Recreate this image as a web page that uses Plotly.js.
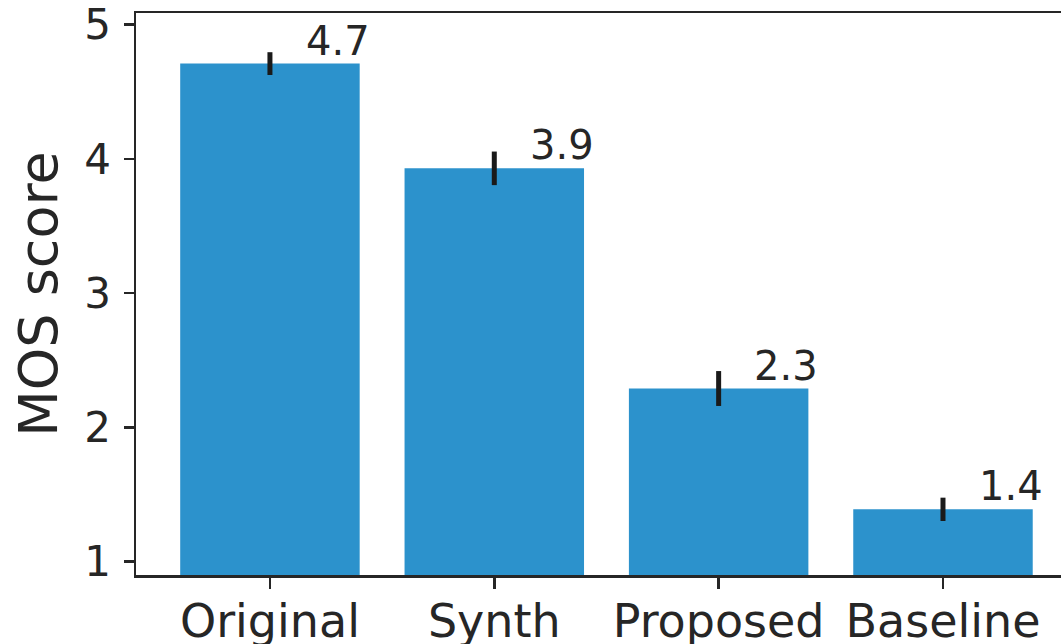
<!DOCTYPE html>
<html>
<head>
<meta charset="utf-8">
<script src="https://cdn.plot.ly/plotly-3.0.1.min.js"></script>
<style>
html,body{margin:0;padding:0;background:#fff;}
#chart{width:1061px;height:644px;}
</style>
</head>
<body>
<div id="chart"></div>
<script>
const categories = ["Original", "Synth", "Proposed", "Baseline"];
const mosValues = [4.71, 3.93, 2.29, 1.39];
const mosErrors = [0.085, 0.125, 0.13, 0.087];
const valueLabels = ["4.7", "3.9", "2.3", "1.4"];
const yTicks = [1, 2, 3, 4, 5];

const xIdx = categories.map((c, i) => i);

const trace = {
  type: "bar",
  x: xIdx,
  y: mosValues,
  width: 0.8,
  marker: {color: "#2C92CC", line: {width: 0}},
  error_y: {type: "data", array: mosErrors, visible: true, color: "#1a1a1a", thickness: 5, width: 0},
  hoverinfo: "skip"
};

const annotations = mosValues.map((v, i) => ({
  x: i + 0.15, y: v - 0.015, xref: "x", yref: "y",
  text: valueLabels[i], showarrow: false,
  xanchor: "left", yanchor: "bottom",
  font: {family: "DejaVu Sans", size: 40, color: "#262626"}
}));

const layout = {
  width: 1061, height: 644,
  margin: {l: 136, r: 0, t: 13, b: 69, pad: 0},
  paper_bgcolor: "#ffffff", plot_bgcolor: "#ffffff",
  showlegend: false,
  font: {family: "DejaVu Sans", color: "#262626"},
  xaxis: {
    range: [-0.597, 3.526],
    tickmode: "array", tickvals: xIdx, ticktext: categories,
    showgrid: false, zeroline: false,
    showline: true, linecolor: "#262626", linewidth: 2.5, mirror: true,
    ticks: "outside", ticklen: 11, tickwidth: 2.5, tickcolor: "#262626",
    tickfont: {family: "DejaVu Sans", size: 46, color: "#262626"},
    ticklabelstandoff: -7,
    automargin: false, fixedrange: true
  },
  yaxis: {
    range: [0.901, 5.087],
    tickmode: "array", tickvals: yTicks, ticktext: yTicks.map(String),
    showgrid: false, zeroline: false,
    showline: true, linecolor: "#262626", linewidth: 2.5, mirror: false,
    ticks: "outside", ticklen: 10, tickwidth: 2.5, tickcolor: "#262626",
    tickfont: {family: "DejaVu Sans", size: 42, color: "#262626"},
    ticklabelstandoff: 4,
    title: {text: "MOS score", font: {family: "DejaVu Sans", size: 54, color: "#262626"}, standoff: 10},
    automargin: false, fixedrange: true
  },
  annotations: annotations,
  bargap: 0.2
};

Plotly.newPlot("chart", [trace], layout, {displayModeBar: false, staticPlot: true});
</script>
</body>
</html>
